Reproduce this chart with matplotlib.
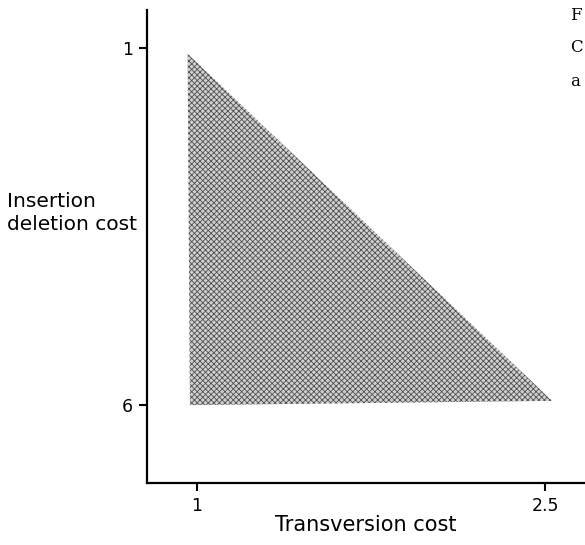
import matplotlib
matplotlib.use("Agg")
import matplotlib.pyplot as plt
from matplotlib.patches import Polygon

plt.rcParams["hatch.linewidth"] = 0.6

# Data: feasible region (transversion cost, insertion/deletion cost)
region_x = [0.96, 0.97, 2.53]
region_y = [1.08, 6.00, 5.94]
xticks = [1, 2.5]
xtick_labels = ["1", "2.5"]
yticks = [1, 6]
ytick_labels = ["1", "6"]

fig = plt.figure(figsize=(5.85, 5.45), dpi=100)
ax = fig.add_axes([147/585, 62/545, 1 - 147/585, (483-10)/545])

poly = Polygon(list(zip(region_x, region_y)), closed=True,
               facecolor="#d0d0d0", edgecolor="#505050", hatch="xxxxxx", linewidth=0)
ax.add_patch(poly)

ax.set_xlim(0.785, 2.672)
ax.set_ylim(7.09, 0.468)

for s in ["top", "right"]:
    ax.spines[s].set_visible(False)
for s in ["left", "bottom"]:
    ax.spines[s].set_linewidth(1.6)

ax.set_xticks(xticks)
ax.set_xticklabels(xtick_labels)
ax.set_yticks(yticks)
ax.set_yticklabels(ytick_labels)
ax.tick_params(axis="both", direction="out", length=6, width=1.5, labelsize=12.5, pad=4)

ax.set_xlabel("Transversion cost", fontsize=15, labelpad=0)
fig.text(7/585, 1 - 213/545, "Insertion\ndeletion cost", fontsize=14.5,
         ha="left", va="center", linespacing=1.25)

# Caption letters at right edge (partly cut off in the reference)
for txt, yy in [("F", 15), ("C", 48), ("a", 82)]:
    fig.text(570/585, 1 - yy/545, txt, fontsize=12, family="DejaVu Serif",
             ha="left", va="center")

fig.savefig("out.png", dpi=100)
